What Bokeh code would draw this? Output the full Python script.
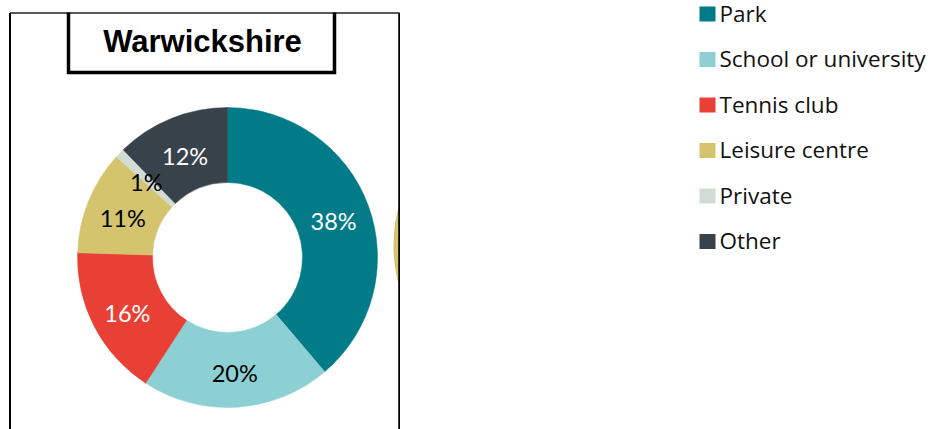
import numpy as np
from bokeh.plotting import figure
from bokeh.layouts import row
from bokeh.models import Range1d, ColumnDataSource
from bokeh.core.properties import value
from bokeh.embed import file_html
from bokeh.resources import INLINE

# ---- data ----
title = "Warwickshire"
categories = ["Park", "School or university", "Tennis club", "Leisure centre", "Private", "Other"]
percent = [38, 20, 16, 11, 1, 12]
colors = ["#007B87", "#8DD0D3", "#E94036", "#D4C46E", "#D0DCD4", "#37424B"]
label_colors = ["white", "black", "white", "black", "black", "white"]

# ---- layout constants (page pixels) ----
W_L, W_R, H = 400, 534, 429


def XL(px):
    return px


def XR(px):
    return px - W_L


def Y(py):
    return H - py


def base_fig(w):
    f = figure(width=w, height=H, x_range=Range1d(0, w), y_range=Range1d(0, H),
               output_backend="svg", toolbar_location=None,
               x_axis_location=None, y_axis_location=None, min_border=0)
    f.outline_line_color = None
    f.background_fill_color = "white"
    f.border_fill_color = "white"
    f.grid.visible = False
    return f


p = base_fig(W_L)

# donut
cx, cy = XL(227), Y(257)
r_out, r_in = 150, 75
frac = np.array(percent, dtype=float) / sum(percent)
cum = np.concatenate([[0.0], np.cumsum(frac)])
start = np.pi / 2 - 2 * np.pi * cum[:-1]
end = np.pi / 2 - 2 * np.pi * cum[1:]
mid = (start + end) / 2
r_lab = 113
src = ColumnDataSource(dict(
    start=start, end=end, color=colors,
    lx=cx + r_lab * np.cos(mid), ly=cy + r_lab * np.sin(mid) - 3,
    lab=[f"{v}%" for v in percent], lcol=label_colors,
))
p.annular_wedge(x=cx, y=cy, inner_radius=r_in, outer_radius=r_out,
                start_angle="start", end_angle="end", direction="clock",
                fill_color="color", line_color="color", line_width=0.5, source=src)
p.text(x="lx", y="ly", text="lab", text_color="lcol", source=src,
       text_font=value("Lato"), text_font_size="23.5px",
       text_align="center", text_baseline="middle")

# sliver of the neighbouring chart's donut (clipped by the panel edge)
p.annular_wedge(x=XL(543), y=Y(245), inner_radius=r_in, outer_radius=r_out,
                start_angle=np.deg2rad(160), end_angle=np.deg2rad(200),
                fill_color=colors[3], line_color=None)

# outer panel frame (left, top, right; bottom runs off the page)
p.line(x=[XL(9.5), XL(9.5)], y=[Y(12.5), -10], line_color="black", line_width=2)
p.line(x=[XL(399), XL(399)], y=[Y(12.5), -10], line_color="black", line_width=2.5)
p.line(x=[XL(9.5), XL(399)], y=[Y(12.5), Y(12.5)], line_color="#222222", line_width=1.5)

# title box
p.line(x=[XL(68), XL(68), XL(334), XL(334)], y=[Y(12), Y(72), Y(72), Y(12)],
       line_color="black", line_width=3.5, line_join="miter")
p.text(x=[XL(202)], y=[Y(41)], text=[title], text_color="black",
       text_font=value("Liberation Sans"), text_font_size="31px",
       text_font_style="bold", text_align="center", text_baseline="middle")

# legend panel
q = base_fig(W_R)
n = len(categories)
ly0, lstep = 13.5, 45.5
leg_y = [Y(ly0 + i * lstep) for i in range(n)]
lsrc = ColumnDataSource(dict(y=leg_y, ty=[v + 1 for v in leg_y], color=colors, name=categories))
q.rect(x=XR(707), y="y", width=16, height=15, fill_color="color", line_color=None, source=lsrc)
q.text(x=XR(719), y="ty", text="name", source=lsrc, text_color="#111111",
       text_font=value("Open Sans"), text_font_size="22.5px",
       text_align="left", text_baseline="middle")

layout = row(p, q, spacing=0)
open("out.html", "w").write(file_html(layout, INLINE))
